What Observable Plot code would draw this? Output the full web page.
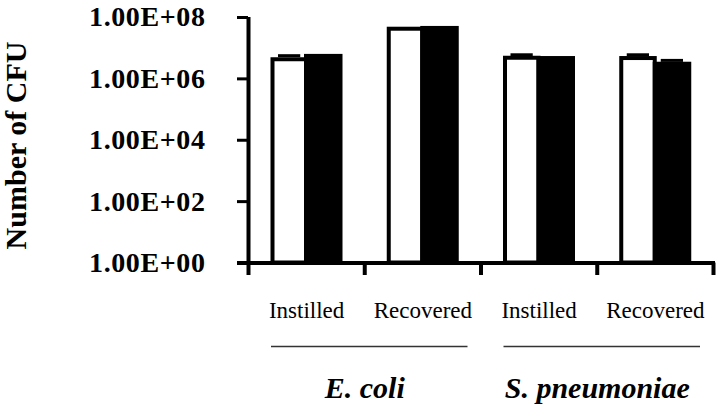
<!DOCTYPE html>
<html>
<head>
<meta charset="utf-8">
<script src="https://cdn.jsdelivr.net/npm/d3@7"></script>
<script src="https://cdn.jsdelivr.net/npm/@observablehq/plot@0.6"></script>
<style>
  html, body { margin: 0; padding: 0; background: #fff; }
  #chart svg { display: block; font-family: 'Liberation Serif', 'Times New Roman', Times, serif; }
  #chart svg text { font-family: 'Liberation Serif', 'Times New Roman', Times, serif; }
  #chart g[aria-label="y-axis tick label"] text { letter-spacing: 0.6px; }
</style>
</head>
<body>
<div id="chart"></div>
<script>
// ---- data ----
const categories = ["Instilled", "Recovered", "Instilled", "Recovered"];
const organisms = ["E. coli", "S. pneumoniae"];
const organismOf = [0, 0, 1, 1];
const whiteValues = [4.2e6, 4.15e7, 4.7e6, 4.6e6];   // open bars
const blackValues = [5.4e6, 4.4e7, 4.6e6, 3.0e6];    // filled bars
const whiteUpper = [5.7e6, null, 6.1e6, 6.1e6];      // visible error caps
const blackUpper = [null, null, null, 4.0e6];
const yTicks = [1, 1e2, 1e4, 1e6, 1e8];
const yTitle = "Number of CFU";

// ---- tables built from the arrays ----
const rows = categories.map((c, i) => ({
  label: c, x1: i, x2: i + 1,
  white: whiteValues[i], black: blackValues[i],
  whiteHi: whiteUpper[i], blackHi: blackUpper[i]
}));
const groups = organisms.map((name, g) => {
  const idx = organismOf.map((o, i) => o === g ? i : -1).filter(i => i >= 0);
  const a = d3.min(idx), b = d3.max(idx) + 1;
  return {name, x1: a, x2: b, mid: (a + b) / 2};
});
const boundaries = d3.range(categories.length + 1);
const centers = categories.map((c, i) => i + 0.5);

const serif = "'Liberation Serif', 'Times New Roman', Times, serif";
const fmt = d => "1.00E+" + String(Math.round(Math.log10(d))).padStart(2, "0");

const chart = Plot.plot({
  width: 720,
  height: 406,
  marginLeft: 248,
  marginRight: 7,
  marginTop: 17,
  marginBottom: 143.5,
  style: `font-family: ${serif}; background: white; color: black; overflow: visible;`,
  x: {type: "linear", domain: [0, categories.length], label: null},
  y: {type: "log", domain: [1, 1e8], label: null},
  marks: [
    // bars
    Plot.rectY(rows, {x1: "x1", x2: "x2", y1: 1, y2: "white", fill: "white", stroke: "black",
      strokeWidth: 4, insetLeft: 24.5, insetRight: 58.25}),
    Plot.rectY(rows, {x1: "x1", x2: "x2", y1: 1, y2: "black", fill: "black", stroke: "black",
      strokeWidth: 4, insetLeft: 58, insetRight: 23.75}),
    // error caps
    Plot.ruleY(rows.filter(d => d.whiteHi != null), {x1: "x1", x2: "x2", y: "whiteHi",
      stroke: "black", strokeWidth: 3, insetLeft: 30, insetRight: 64}),
    Plot.ruleY(rows.filter(d => d.blackHi != null), {x1: "x1", x2: "x2", y: "blackHi",
      stroke: "black", strokeWidth: 3, insetLeft: 64, insetRight: 30}),
    // axis lines
    Plot.ruleX([0], {y1: 1, y2: 1e8, stroke: "black", strokeWidth: 4}),
    Plot.ruleY([1], {x1: 0, x2: categories.length, stroke: "black", strokeWidth: 4,
      insetLeft: -11, insetRight: -2}),
    // y axis
    Plot.axisY({ticks: yTicks, tickFormat: fmt, tickSize: 11, tickPadding: 32,
      strokeWidth: 3, fontSize: 28, fontWeight: "bold", fontFamily: serif, label: null}),
    // x boundary ticks
    Plot.axisX({ticks: boundaries, tickFormat: () => "", tickSize: 12.5, tickPadding: 0,
      strokeWidth: 4, label: null}),
    // category labels
    Plot.axisX({ticks: centers, tickFormat: t => categories[Math.floor(t)], tickSize: 0,
      tickPadding: 39, fontSize: 23, fontFamily: serif, label: null}),
    // organism underlines
    Plot.ruleY(groups, {x1: "x1", x2: "x2", y: 1, dy: 83.5, stroke: "#333", strokeWidth: 1.5,
      insetLeft: 23, insetRight: 13}),
    // organism names
    Plot.text(groups, {x: "mid", y: 1, text: "name", dy: 125.5, fontSize: 30, fontFamily: serif,
      fontWeight: "bold", fontStyle: "italic", lineAnchor: "middle", fill: "black"}),
    // y title
    Plot.text([yTitle], {text: d => d, frameAnchor: "left", textAnchor: "middle", rotate: -90,
      dx: -232.6, dy: 5.25, fontSize: 30, fontFamily: serif, fontWeight: "bold",
      lineAnchor: "middle", fill: "black"})
  ]
});
document.getElementById("chart").appendChild(chart);
</script>
</body>
</html>
